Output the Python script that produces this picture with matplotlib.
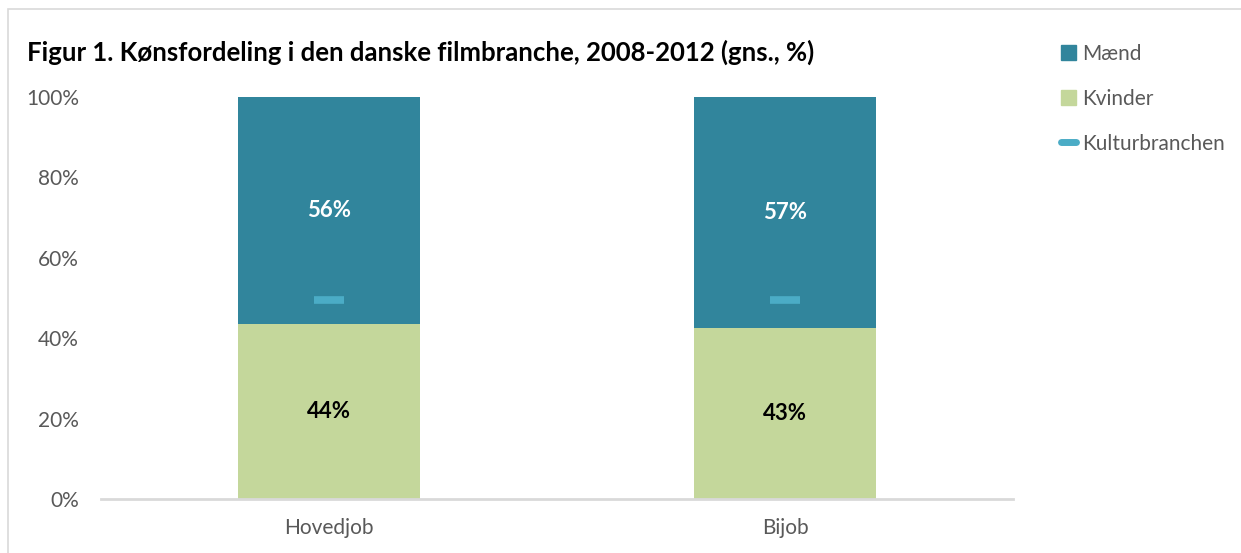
import matplotlib.pyplot as plt
from matplotlib.patches import Patch, Rectangle
from matplotlib.lines import Line2D
import numpy as np

plt.rcParams['font.family'] = ['Lato', 'DejaVu Sans']

# data
kategorier = ['Hovedjob', 'Bijob']
kvinder = [43.6, 42.6]
maend = [56.4, 57.4]
kulturbranchen = [49.4, 49.4]
yticks = [0, 20, 40, 60, 80, 100]

farve_maend = '#31859C'
farve_kvinder = '#C4D79B'
farve_kultur = '#4BACC6'
graa = '#595959'

fig = plt.figure(figsize=(12.41, 5.53), dpi=100)
# ramme om figuren
fig.patches.append(Rectangle((8 / 1241, -0.1), 1.1, 1.1 - 9 / 553, transform=fig.transFigure,
                             fill=False, edgecolor='#D9D9D9', linewidth=1.2))

ax = fig.add_axes([101 / 1241, 54 / 553, 912 / 1241, 402 / 553])
x = np.arange(len(kategorier))
ax.bar(x, kvinder, width=0.4, color=farve_kvinder)
ax.bar(x, maend, width=0.4, bottom=kvinder, color=farve_maend)
ax.plot(x, kulturbranchen, linestyle='none', marker='_', markersize=22,
        markeredgewidth=5.5, color=farve_kultur)

# datalabels
for i in range(len(x)):
    ax.text(x[i], kvinder[i] / 2, f'{round(kvinder[i])}%', ha='center', va='center',
            fontsize=16, fontweight='bold', color='black')
    ax.text(x[i], kvinder[i] + maend[i] / 2, f'{round(maend[i])}%', ha='center', va='center',
            fontsize=16, fontweight='bold', color='white')

ax.set_xlim(-0.5, 1.5)
ax.set_ylim(0, 100)
ax.set_yticks(yticks)
ax.set_yticklabels([f'{v}%' for v in yticks])
ax.set_xticks(x)
ax.set_xticklabels(kategorier)
ax.tick_params(axis='both', length=0, labelsize=15, labelcolor=graa)
ax.tick_params(axis='y', pad=16)
ax.tick_params(axis='x', pad=14)
for s in ['top', 'right', 'left']:
    ax.spines[s].set_visible(False)
ax.spines['bottom'].set_color('#D9D9D9')
ax.spines['bottom'].set_linewidth(2)

fig.text(27 / 1241, 1 - 52 / 553, 'Figur 1. Kønsfordeling i den danske filmbranche, 2008-2012 (gns., %)',
         fontsize=18.5, fontweight='bold', va='center', ha='left')

handles = [Patch(color=farve_maend), Patch(color=farve_kvinder),
           Line2D([], [], color=farve_kultur, linewidth=5, solid_capstyle='round')]
leg = fig.legend(handles, ['Mænd', 'Kvinder', 'Kulturbranchen'], loc='upper left',
                 bbox_to_anchor=(1042 / 1241, 1 - 25 / 553), frameon=False, fontsize=15,
                 handlelength=0.75, handleheight=0.75, handletextpad=0.3, labelspacing=1.2)
for t in leg.get_texts():
    t.set_color(graa)

fig.savefig('out.png', dpi=100)
